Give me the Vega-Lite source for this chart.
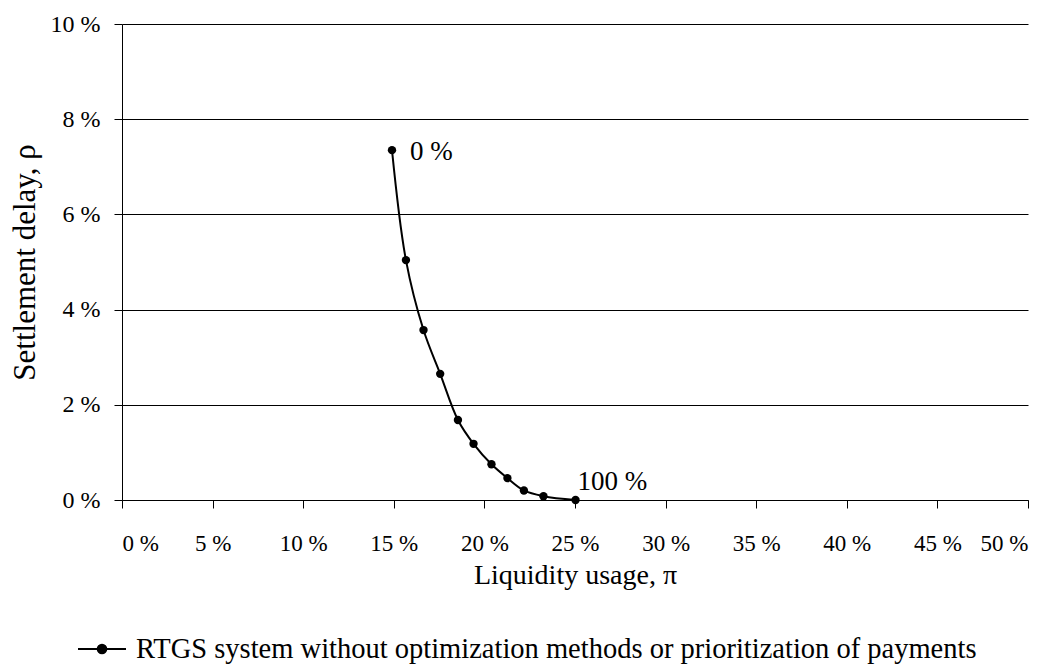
{
  "$schema": "https://vega.github.io/schema/vega-lite/v6.json",
  "width": 906,
  "height": 476,
  "autosize": {"type": "none"},
  "padding": {"left": 122, "top": 24, "right": 26, "bottom": 164},
  "background": "white",
  "config": {
    "view": {"stroke": null},
    "font": "Liberation Serif",
    "legend": {"padding": 0},
    "axis": {
      "labelFont": "Liberation Serif",
      "titleFont": "Liberation Serif",
      "labelColor": "black",
      "titleColor": "black",
      "domainColor": "black",
      "tickColor": "black",
      "gridColor": "black",
      "gridOpacity": 1,
      "domainWidth": 1,
      "tickWidth": 1,
      "gridWidth": 1,
      "tickSize": 8,
      "titleFontWeight": "normal"
    }
  },
  "data": {
    "values": [
      {"pi": 14.90, "rho": 7.35, "series": "RTGS system without optimization methods or prioritization of payments", "label": "0 %"},
      {"pi": 15.67, "rho": 5.04, "series": "RTGS system without optimization methods or prioritization of payments", "label": ""},
      {"pi": 16.64, "rho": 3.57, "series": "RTGS system without optimization methods or prioritization of payments", "label": ""},
      {"pi": 17.56, "rho": 2.65, "series": "RTGS system without optimization methods or prioritization of payments", "label": ""},
      {"pi": 18.54, "rho": 1.68, "series": "RTGS system without optimization methods or prioritization of payments", "label": ""},
      {"pi": 19.40, "rho": 1.18, "series": "RTGS system without optimization methods or prioritization of payments", "label": ""},
      {"pi": 20.39, "rho": 0.75, "series": "RTGS system without optimization methods or prioritization of payments", "label": ""},
      {"pi": 21.27, "rho": 0.46, "series": "RTGS system without optimization methods or prioritization of payments", "label": ""},
      {"pi": 22.18, "rho": 0.20, "series": "RTGS system without optimization methods or prioritization of payments", "label": ""},
      {"pi": 23.26, "rho": 0.08, "series": "RTGS system without optimization methods or prioritization of payments", "label": ""},
      {"pi": 25.03, "rho": 0.00, "series": "RTGS system without optimization methods or prioritization of payments", "label": "100 %"}
    ]
  },
  "encoding": {
    "x": {
      "field": "pi", "type": "quantitative",
      "scale": {"domain": [0, 50], "nice": false, "zero": false},
      "axis": {
        "values": [0, 5, 10, 15, 20, 25, 30, 35, 40, 45, 50],
        "labelExpr": "datum.value + ' %'",
        "grid": false,
        "labelFontSize": 23,
        "labelPadding": 24,
        "title": "Liquidity usage, π",
        "titleFontSize": 28,
        "titlePadding": 6
      }
    },
    "y": {
      "field": "rho", "type": "quantitative",
      "scale": {"domain": [0, 10], "nice": false},
      "axis": {
        "values": [0, 2, 4, 6, 8, 10],
        "labelExpr": "datum.value + ' %'",
        "grid": true,
        "labelFontSize": 24,
        "labelPadding": 14,
        "title": "Settlement delay, ρ",
        "titleFontSize": 31,
        "titlePadding": 9
      }
    }
  },
  "layer": [
    {
      "mark": {"type": "line", "interpolate": "catmull-rom", "strokeWidth": 2, "color": "black"},
      "encoding": {
        "color": {
          "field": "series", "type": "nominal",
          "scale": {"range": ["black"]},
          "legend": {
            "title": null,
            "orient": "none",
            "legendX": -45,
            "legendY": 600,
            "labelFont": "Liberation Serif",
            "labelFontSize": 28.5,
            "labelColor": "black",
            "labelLimit": 2000,
            "labelOffset": 9,
            "symbolType": "M-1,0H1M0.18,0A0.18,0.18,0,1,1,-0.18,0A0.18,0.18,0,1,1,0.18,0Z",
            "symbolSize": 2304,
            "symbolStrokeWidth": 2,
            "symbolStrokeColor": "black",
            "symbolFillColor": "black"
          }
        }
      }
    },
    {
      "mark": {"type": "point", "filled": true, "size": 70, "color": "black", "opacity": 1}
    },
    {
      "transform": [{"filter": "datum.label == '0 %'"}],
      "mark": {"type": "text", "align": "left", "baseline": "middle", "dx": 18, "dy": 2, "fontSize": 27, "font": "Liberation Serif", "color": "black"},
      "encoding": {"text": {"field": "label"}}
    },
    {
      "transform": [{"filter": "datum.label == '100 %'"}],
      "mark": {"type": "text", "align": "left", "baseline": "alphabetic", "dx": 2, "dy": -10, "fontSize": 27, "font": "Liberation Serif", "color": "black"},
      "encoding": {"text": {"field": "label"}}
    }
  ]
}
